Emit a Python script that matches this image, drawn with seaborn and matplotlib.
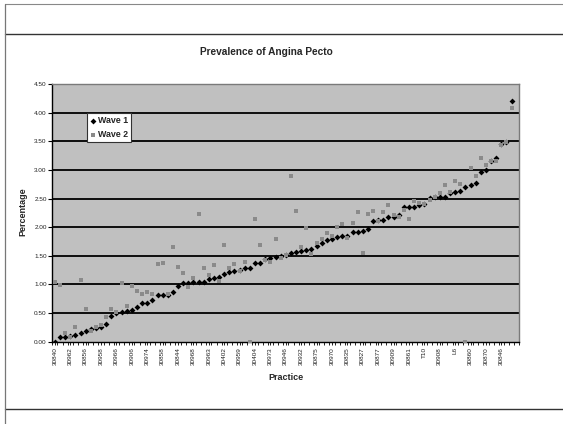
import numpy as np
import pandas as pd
import seaborn as sns
import matplotlib
matplotlib.use("Agg")
import matplotlib.pyplot as plt
from matplotlib.lines import Line2D

# Prevalence (%) per practice, practices ordered by Wave 1 value
wave1 = [0.00, 0.08, 0.08, 0.10, 0.11, 0.15, 0.19, 0.23, 0.24, 0.25,
         0.31, 0.45, 0.50, 0.52, 0.54, 0.56, 0.60, 0.67, 0.67, 0.72,
         0.81, 0.81, 0.81, 0.87, 0.98, 1.02, 1.02, 1.05, 1.05, 1.05,
         1.09, 1.11, 1.13, 1.18, 1.22, 1.24, 1.25, 1.28, 1.29, 1.37,
         1.38, 1.44, 1.46, 1.48, 1.50, 1.52, 1.55, 1.57, 1.58, 1.60,
         1.61, 1.67, 1.73, 1.77, 1.80, 1.82, 1.84, 1.85, 1.91, 1.92,
         1.93, 1.97, 2.11, 2.12, 2.13, 2.17, 2.18, 2.22, 2.35, 2.36,
         2.36, 2.39, 2.41, 2.51, 2.53, 2.53, 2.53, 2.59, 2.61, 2.63,
         2.70, 2.73, 2.77, 2.97, 3.00, 3.16, 3.21, 3.46, 3.48, 4.21]

wave2 = [1.04, 0.99, 0.15, 0.08, 0.25, 1.07, 0.57, 0.19, 0.25, 0.30,
         0.44, 0.57, 0.52, 1.02, 0.62, 0.97, 0.89, 0.84, 0.86, 0.83,
         1.36, 1.37, 0.83, 1.65, 1.30, 1.20, 0.95, 1.12, 2.23, 1.28,
         1.16, 1.34, 1.06, 1.68, 1.29, 1.36, 1.24, 1.40, 0.00, 2.15,
         1.68, 1.42, 1.40, 1.79, 1.47, 1.51, 2.90, 2.29, 1.66, 1.98,
         1.54, 1.72, 1.80, 1.89, 1.84, 2.01, 2.05, 1.81, 2.08, 2.27,
         1.55, 2.23, 2.29, 2.10, 2.26, 2.38, 2.21, 2.18, 2.30, 2.15,
         2.45, 2.43, 2.41, 2.47, 2.53, 2.59, 2.73, 2.61, 2.81, 2.76,
         0.00, 3.03, 2.90, 3.21, 3.09, 3.15, 3.16, 3.44, 3.49, 4.08]

# Practice codes shown on the category axis (every third practice)
practice_labels = ["30840", "30962", "30856", "30958", "30966", "30906",
                   "30974", "30858", "30844", "30968", "30963", "30402",
                   "30959", "30404", "30973", "30946", "30932", "30875",
                   "30970", "30835", "30827", "30877", "30909", "30861",
                   "T10", "30908", "L6", "30860", "30870", "30846"]

y_ticks = [0.0, 0.5, 1.0, 1.5, 2.0, 2.5, 3.0, 3.5, 4.0, 4.5]

sns.set_theme(style="white")
plt.rcParams["font.family"] = ["Liberation Sans", "DejaVu Sans"]

pos = np.arange(len(wave1))
df = pd.DataFrame({
    "pos": np.concatenate([pos, pos]),
    "value": wave1 + wave2,
    "wave": ["Wave 1"] * len(wave1) + ["Wave 2"] * len(wave2),
})

fig = plt.figure(figsize=(5.63, 4.24), dpi=100)
fig.patch.set_facecolor("white")
ax = fig.add_axes([0.0929, 0.1941, 0.8295, 0.6078])
ax.set_facecolor("#c0c0c0")

# horizontal gridlines
for v in y_ticks[1:-1]:
    ax.axhline(v, color="black", lw=1.3, zorder=1)

sns.scatterplot(data=df[df.wave == "Wave 1"], x="pos", y="value",
                marker="D", color="black", s=9, linewidth=0,
                ax=ax, zorder=3, label="Wave 1")
sns.scatterplot(data=df[df.wave == "Wave 2"], x="pos", y="value",
                marker="s", color="#8a8a8a", s=7, linewidth=0,
                ax=ax, zorder=4, label="Wave 2")

ax.set_xlim(-0.5, len(wave1) + 0.5)
ax.set_ylim(0, 4.5)

ax.set_yticks(y_ticks)
ax.set_yticklabels([f"{v:.2f}" for v in y_ticks], fontsize=4.6, color="#222222")
ax.set_xticks(np.arange(0, len(practice_labels) * 3, 3))
ax.set_xticklabels(practice_labels, rotation=90, fontsize=4.6, color="#222222")
ax.set_xticks(np.arange(-0.5, len(wave1) + 1, 1), minor=True)
ax.tick_params(axis="y", which="major", length=3, width=0.8, pad=1,
               left=True, color="black")
ax.tick_params(axis="x", which="major", length=2, width=0.6, pad=2,
               bottom=True, color="black")
ax.tick_params(axis="x", which="minor", length=2, width=0.6,
               bottom=True, color="black")

ax.set_xlabel("")
ax.set_ylabel("")

for side in ["left", "bottom"]:
    ax.spines[side].set_color("black")
    ax.spines[side].set_linewidth(1.0)
for side in ["top", "right"]:
    ax.spines[side].set_color("#7a7a7a")
    ax.spines[side].set_linewidth(1.0)

leg = ax.legend(loc="upper left", bbox_to_anchor=(0.075, 0.888),
                fontsize=6.4, frameon=True, fancybox=False,
                borderpad=0.35, handlelength=0.5, handletextpad=0.3,
                labelspacing=0.55, borderaxespad=0, markerscale=1.0)
leg.get_frame().set_edgecolor("#333333")
leg.get_frame().set_linewidth(0.8)
leg.get_frame().set_facecolor("white")
leg.get_frame().set_alpha(1)
for t in leg.get_texts():
    t.set_fontweight("bold")

fig.text(266 / 563, 1 - 52 / 424, "Prevalence of Angina Pecto",
         ha="center", va="center", fontsize=7.3, fontweight="bold")
fig.text(286 / 563, 1 - 378 / 424, "Practice",
         ha="center", va="center", fontsize=6.5, fontweight="bold")
fig.text(22.5 / 563, 1 - 212 / 424, "Percentage", rotation=90,
         ha="center", va="center", fontsize=6.5, fontweight="bold")

# surrounding frame lines
W, H = 563, 424
def hline(y, x0=5, x1=563, color="#555555", lw=1.0):
    fig.add_artist(Line2D([x0 / W, x1 / W], [1 - y / H, 1 - y / H],
                          transform=fig.transFigure, color=color, lw=lw))
hline(3.5, color="#888888", lw=0.8)
hline(33.5, color="#333333", lw=1.0)
hline(409, color="#333333", lw=1.0)
fig.add_artist(Line2D([5 / W, 5 / W], [0, 1 - 3.5 / H],
                      transform=fig.transFigure, color="#777777", lw=0.9))

fig.savefig("out.png", dpi=100)
